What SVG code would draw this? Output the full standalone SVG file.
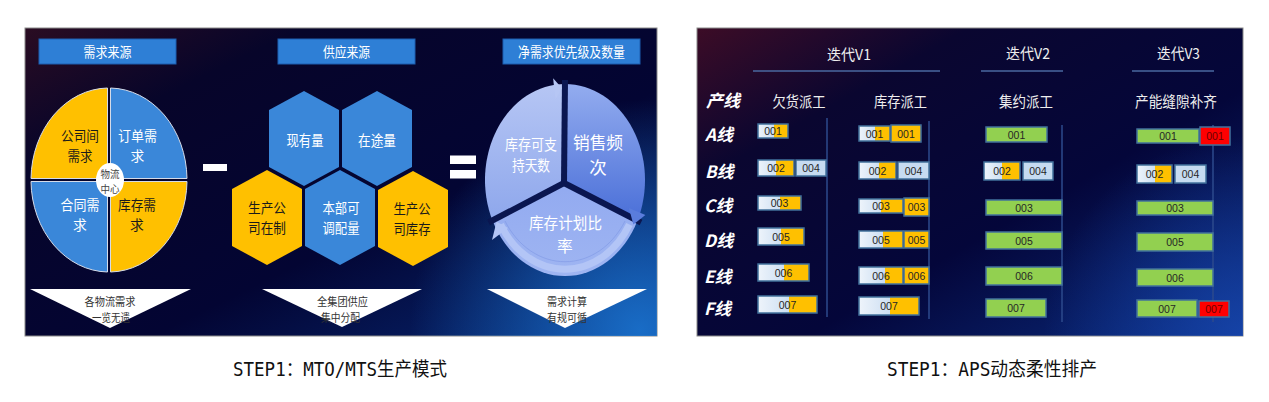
<svg xmlns="http://www.w3.org/2000/svg" width="1269" height="402" viewBox="0 0 1269 402">
<style>
.cn{font-family:"Noto Sans CJK SC","Noto Sans",sans-serif}
.w{fill:#ffffff}
.d{fill:#1a1a1a}
.mid{text-anchor:middle}
.hdr{fill:#2e7fd6;stroke:#1d5fb0;stroke-width:1}
.yl{fill:#ffc000}
.bl{fill:#3a87d9}
.qd{stroke:#d5dbe8;stroke-width:1}
.tri{fill:#ffffff}
.bd{fill:none;stroke:#41719c;stroke-width:1.5}
.lbl{font-family:"Liberation Sans",Arial,sans-serif;font-size:10.5px;fill:#262626;text-anchor:middle;dominant-baseline:central}
.rlbl{font-family:"Liberation Sans",Arial,sans-serif;font-size:10.5px;fill:#6b0000;text-anchor:middle;dominant-baseline:central}
.grn{fill:#92d050}
.red{fill:#ff0000}
.lb{fill:#c6dbf1}
.vl{stroke:#2c4a8c;stroke-width:1.5}
.ul{stroke:#4a68a0;stroke-width:1.5}
.rh{font-family:"Noto Sans CJK SC","Noto Sans",sans-serif;font-size:15px;fill:#eeeeee;text-anchor:middle}
.row{font-family:"Noto Sans CJK SC","Noto Sans",sans-serif;font-size:17px;font-weight:bold;font-style:italic;fill:#ffffff}
.cap{font-family:"DejaVu Sans Mono","Liberation Mono","Noto Sans CJK SC",monospace;font-size:19px;fill:#111111}
</style>
<defs>
<linearGradient id="bgL" x1="0" y1="0" x2="1" y2="1">
<stop offset="0" stop-color="#2a0c22"/>
<stop offset="0.22" stop-color="#07052a"/>
<stop offset="0.6" stop-color="#030533"/>
<stop offset="1" stop-color="#072a78"/>
</linearGradient>
<radialGradient id="glowL" cx="640" cy="330" r="230" gradientUnits="userSpaceOnUse">
<stop offset="0" stop-color="#1c78d4" stop-opacity="0.85"/>
<stop offset="1" stop-color="#1c78d4" stop-opacity="0"/>
</radialGradient>
<linearGradient id="bgR" x1="0" y1="0" x2="1" y2="1">
<stop offset="0" stop-color="#3c0c26"/>
<stop offset="0.25" stop-color="#0a0630"/>
<stop offset="0.6" stop-color="#04063a"/>
<stop offset="1" stop-color="#0a2c80"/>
</linearGradient>
<radialGradient id="glowR" cx="1243" cy="336" r="200" gradientUnits="userSpaceOnUse">
<stop offset="0" stop-color="#1848b0" stop-opacity="0.8"/>
<stop offset="1" stop-color="#1848b0" stop-opacity="0"/>
</radialGradient>
<linearGradient id="lg" x1="0" y1="0" x2="1" y2="0">
<stop offset="0" stop-color="#eef4fb"/>
<stop offset="1" stop-color="#aecbea"/>
</linearGradient>
<linearGradient id="w1" x1="0" y1="0" x2="0" y2="1">
<stop offset="0" stop-color="#b6c6f4"/>
<stop offset="1" stop-color="#8ea7ec"/>
</linearGradient>
<linearGradient id="w2" x1="0" y1="0" x2="0" y2="1">
<stop offset="0" stop-color="#93acef"/>
<stop offset="1" stop-color="#4a6fd8"/>
</linearGradient>
<linearGradient id="w3" x1="0" y1="0" x2="0" y2="1">
<stop offset="0" stop-color="#92aaf0"/>
<stop offset="1" stop-color="#9fb5f2"/>
</linearGradient>
</defs>

<rect width="1269" height="402" fill="#ffffff"/>

<!-- LEFT PANEL -->
<g id="panel-left">
<rect x="25" y="28" width="632" height="308" fill="url(#bgL)" stroke="#8a8a8a" stroke-width="1"/>
<rect x="25" y="28" width="632" height="308" fill="url(#glowL)"/>
</g>

<g id="hdr-demand">
<rect class="hdr" x="39" y="39" width="137" height="25"/>
<text class="cn w mid" x="107.5" y="57.3" font-size="14" textLength="48" lengthAdjust="spacingAndGlyphs">需求来源</text>
</g>
<g id="hdr-supply">
<rect class="hdr" x="278" y="39" width="137" height="25"/>
<text class="cn w mid" x="346.5" y="57.3" font-size="14" textLength="47" lengthAdjust="spacingAndGlyphs">供应来源</text>
</g>
<g id="hdr-net">
<rect class="hdr" x="503" y="39" width="137" height="25"/>
<text class="cn w mid" x="571.5" y="57.3" font-size="14" textLength="107" lengthAdjust="spacingAndGlyphs">净需求优先级及数量</text>
</g>

<g id="q-intercompany">
<path class="yl qd" d="M107.5,178.5 V88 A78,92 0 0 0 31,178.5 Z"/>
<text class="cn d mid" font-size="13.8"><tspan x="80" y="140.7" textLength="38" lengthAdjust="spacingAndGlyphs">公司间</tspan><tspan x="80" y="160.7" textLength="25" lengthAdjust="spacingAndGlyphs">需求</tspan></text>
</g>
<g id="q-order">
<path class="bl qd" d="M110.5,178.5 V88 A78,92 0 0 1 187,178.5 Z"/>
<text class="cn w mid" font-size="13.8"><tspan x="137.5" y="140.7" textLength="39" lengthAdjust="spacingAndGlyphs">订单需</tspan><tspan x="137.5" y="160.7">求</tspan></text>
</g>
<g id="q-contract">
<path class="bl qd" d="M107.5,181.5 V272 A78,92 0 0 1 31,181.5 Z"/>
<text class="cn w mid" font-size="13.8"><tspan x="80" y="209.7" textLength="39" lengthAdjust="spacingAndGlyphs">合同需</tspan><tspan x="80" y="229.7">求</tspan></text>
</g>
<g id="q-stock">
<path class="yl qd" d="M110.5,181.5 V272 A78,92 0 0 0 187,181.5 Z"/>
<text class="cn d mid" font-size="13.8"><tspan x="137" y="209.7" textLength="38" lengthAdjust="spacingAndGlyphs">库存需</tspan><tspan x="137" y="229.7">求</tspan></text>
</g>
<g id="logistics-center">
<ellipse cx="110" cy="180" rx="14" ry="17" fill="#ffffff"/>
<text class="cn mid" font-size="10.2" fill="#444"><tspan x="110" y="178.4" textLength="19" lengthAdjust="spacingAndGlyphs">物流</tspan><tspan x="110" y="193.4" textLength="19" lengthAdjust="spacingAndGlyphs">中心</tspan></text>
</g>
<g id="tri-demand">
<polygon class="tri" points="30,289 191,289 110,328"/>
<text class="cn mid" font-size="11" fill="#333"><tspan x="110" y="306.2" textLength="51" lengthAdjust="spacingAndGlyphs">各物流需求</tspan><tspan x="111" y="322.2" textLength="38" lengthAdjust="spacingAndGlyphs">一览无遗</tspan></text>
</g>

<g id="minus"><rect x="203" y="164" width="24" height="7" fill="#ffffff"/></g>

<g id="hex-onhand">
<polygon class="bl" points="304,91 339,110 339,167 304,186 269,167 269,110"/>
<text class="cn w mid" x="305" y="145.7" font-size="15" textLength="37" lengthAdjust="spacingAndGlyphs">现有量</text>
</g>
<g id="hex-transit">
<polygon class="bl" points="377,91 412,110 412,167 377,186 342,167 342,110"/>
<text class="cn w mid" x="377" y="145.7" font-size="15" textLength="38" lengthAdjust="spacingAndGlyphs">在途量</text>
</g>
<g id="hex-wip">
<polygon class="yl" points="267,170 302,189 302,246 267,265 232,246 232,189"/>
<text class="cn d mid" font-size="13.8"><tspan x="267" y="213.2" textLength="38" lengthAdjust="spacingAndGlyphs">生产公</tspan><tspan x="267" y="233.2" textLength="38" lengthAdjust="spacingAndGlyphs">司在制</tspan></text>
</g>
<g id="hex-transfer">
<polygon class="bl" points="340,170 375,189 375,246 340,265 305,246 305,189"/>
<text class="cn w mid" font-size="13.8"><tspan x="341" y="212.7" textLength="37" lengthAdjust="spacingAndGlyphs">本部可</tspan><tspan x="341" y="232.7" textLength="37" lengthAdjust="spacingAndGlyphs">调配量</tspan></text>
</g>
<g id="hex-stock">
<polygon class="yl" points="413,171 448,190 448,247 413,266 378,247 378,190"/>
<text class="cn d mid" font-size="13.8"><tspan x="412" y="214.2" textLength="37" lengthAdjust="spacingAndGlyphs">生产公</tspan><tspan x="412" y="234.2" textLength="37" lengthAdjust="spacingAndGlyphs">司库存</tspan></text>
</g>
<g id="tri-supply">
<polygon class="tri" points="262,289 422,289 342,327"/>
<text class="cn mid" font-size="11" fill="#333"><tspan x="342.5" y="306.2" textLength="51" lengthAdjust="spacingAndGlyphs">全集团供应</tspan><tspan x="340.5" y="322.2" textLength="39" lengthAdjust="spacingAndGlyphs">集中分配</tspan></text>
</g>

<g id="equals">
<rect x="450" y="155.5" width="26" height="8.5" fill="#ffffff"/>
<rect x="450" y="170" width="26" height="8.5" fill="#ffffff"/>
</g>

<g id="wedge-days">
<path d="M564,183 L492.5,220.6 A80,96 0 0 1 565,84 Z" fill="url(#w1)"/>
</g>
<g id="wedge-freq">
<path d="M564,183 L565,84 A80,96 0 0 1 637.5,220.6 Z" fill="url(#w2)"/>
</g>
<g id="wedge-ratio">
<path d="M564,183 L637.5,220.6 A80,96 0 0 1 492.5,220.6 Z" fill="url(#w3)"/>
<path d="M629.4,224.6 A74.4,89.3 0 0 1 500.6,224.6" fill="none" stroke="#b3c5f6" stroke-width="7"/>
<path d="M625,221 A70,84 0 0 1 505,221" fill="none" stroke="#7f98e4" stroke-width="1" stroke-opacity="0.6"/>
</g>
<g id="cycle-gaps" stroke="#0a1650" stroke-width="6" stroke-linecap="butt">
<line x1="564" y1="183" x2="565" y2="80"/>
<line x1="564" y1="183" x2="641" y2="222.5"/>
<line x1="564" y1="183" x2="488.5" y2="222.5"/>
</g>
<g id="cycle-arrows">
<polygon points="553.1,78.3 561.8,87.9 555.5,99.2" fill="#b6c6f4"/>
<polygon points="645.4,215.1 633.4,224.5 628.9,207.9" fill="#5a7ddc"/>
<polygon points="492,240 496.6,221.8 508,228" fill="#b3c5f6"/>
</g>
<g id="cycle-labels">
<text class="cn w mid" font-size="14.4"><tspan x="531" y="149.5" textLength="52" lengthAdjust="spacingAndGlyphs">库存可支</tspan><tspan x="531" y="170.5" textLength="38" lengthAdjust="spacingAndGlyphs">持天数</tspan></text>
<text class="cn w mid" font-size="17.5"><tspan x="598" y="148.7" textLength="50" lengthAdjust="spacingAndGlyphs">销售频</tspan><tspan x="598" y="174.2">次</tspan></text>
<text class="cn w mid" font-size="15.8"><tspan x="565.5" y="229" textLength="73" lengthAdjust="spacingAndGlyphs">库存计划比</tspan><tspan x="565" y="252">率</tspan></text>
</g>
<g id="tri-net">
<polygon class="tri" points="487,289 647,289 565,328"/>
<text class="cn mid" font-size="11" fill="#333"><tspan x="567" y="306.2" textLength="40" lengthAdjust="spacingAndGlyphs">需求计算</tspan><tspan x="567" y="322.2" textLength="40" lengthAdjust="spacingAndGlyphs">有规可循</tspan></text>
</g>

<!-- RIGHT PANEL -->
<g id="panel-right">
<rect x="697" y="28" width="546" height="308" fill="url(#bgR)" stroke="#8a8a8a" stroke-width="1"/>
<rect x="697" y="28" width="546" height="308" fill="url(#glowR)"/>
</g>

<g id="headers-right">
<text class="rh" x="849" y="60.4" textLength="44" lengthAdjust="spacingAndGlyphs">迭代V1</text>
<text class="rh" x="1028" y="59" textLength="44" lengthAdjust="spacingAndGlyphs">迭代V2</text>
<text class="rh" x="1178.5" y="59" textLength="43" lengthAdjust="spacingAndGlyphs">迭代V3</text>
<text class="rh" x="799" y="106.5" textLength="53" lengthAdjust="spacingAndGlyphs">欠货派工</text>
<text class="rh" x="900.5" y="106.5" textLength="53" lengthAdjust="spacingAndGlyphs">库存派工</text>
<text class="rh" x="1026" y="106.5" textLength="54" lengthAdjust="spacingAndGlyphs">集约派工</text>
<text class="rh" x="1176" y="106.5" textLength="82" lengthAdjust="spacingAndGlyphs">产能缝隙补齐</text>
<text class="row" x="706" y="106.5">产线</text>
<text class="row" x="705" y="140.5">A线</text>
<text class="row" x="705" y="177.5">B线</text>
<text class="row" x="704" y="211.5">C线</text>
<text class="row" x="704" y="246.5">D线</text>
<text class="row" x="704" y="282.5">E线</text>
<text class="row" x="704" y="314.5">F线</text>
</g>

<g id="connectors">
<line class="ul" x1="753" y1="71" x2="940" y2="71"/>
<line class="ul" x1="981" y1="71" x2="1063" y2="71"/>
<line class="ul" x1="1132" y1="71" x2="1214" y2="71"/>
<line class="vl" x1="827" y1="118" x2="827" y2="317"/>
<line class="vl" x1="929" y1="121" x2="929" y2="319"/>
<line class="vl" x1="1062" y1="125" x2="1062" y2="322"/>
<line class="vl" x1="1213" y1="125" x2="1213" y2="322"/>
</g>

<!-- V1 col 1 -->
<g id="v1a-A"><rect x="758" y="124" width="30" height="14" fill="url(#lg)"/><rect class="yl" x="774" y="124" width="14" height="14"/><rect class="bd" x="758" y="124" width="30" height="14"/><text class="lbl" x="773" y="131">001</text></g>
<g id="v1a-B1"><rect x="758" y="160" width="36" height="16" fill="url(#lg)"/><rect class="yl" x="776" y="160" width="18" height="16"/><rect class="bd" x="758" y="160" width="36" height="16"/><text class="lbl" x="776" y="168">002</text></g>
<g id="v1a-B2"><rect class="lb" x="796" y="160" width="30" height="16"/><rect class="bd" x="796" y="160" width="30" height="16"/><text class="lbl" x="811" y="168">004</text></g>
<g id="v1a-C"><rect x="758" y="196" width="43" height="14" fill="url(#lg)"/><rect class="yl" x="780" y="196" width="21" height="14"/><rect class="bd" x="758" y="196" width="43" height="14"/><text class="lbl" x="779.5" y="203">003</text></g>
<g id="v1a-D"><rect x="758" y="228" width="46" height="17" fill="url(#lg)"/><rect class="yl" x="781" y="228" width="23" height="17"/><rect class="bd" x="758" y="228" width="46" height="17"/><text class="lbl" x="781" y="236.5">005</text></g>
<g id="v1a-E"><rect x="758" y="264" width="51" height="17" fill="url(#lg)"/><rect class="yl" x="784" y="264" width="25" height="17"/><rect class="bd" x="758" y="264" width="51" height="17"/><text class="lbl" x="783.5" y="272.5">006</text></g>
<g id="v1a-F"><rect x="758" y="296" width="59" height="17" fill="url(#lg)"/><rect class="yl" x="789" y="296" width="28" height="17"/><rect class="bd" x="758" y="296" width="59" height="17"/><text class="lbl" x="787.5" y="304.5">007</text></g>

<!-- V1 col 2 -->
<g id="v1b-A1"><rect x="859" y="126" width="31" height="15" fill="url(#lg)"/><rect class="yl" x="875" y="126" width="15" height="15"/><rect class="bd" x="859" y="126" width="31" height="15"/><text class="lbl" x="874.5" y="133.5">001</text></g>
<g id="v1b-A2"><rect class="yl" x="891" y="125" width="30" height="17"/><rect class="bd" x="891" y="125" width="30" height="17"/><text class="lbl" x="906" y="133.5">001</text></g>
<g id="v1b-B1"><rect x="859" y="162" width="37" height="17" fill="url(#lg)"/><rect class="yl" x="879" y="162" width="17" height="17"/><rect class="bd" x="859" y="162" width="37" height="17"/><text class="lbl" x="877.5" y="170.5">002</text></g>
<g id="v1b-B2"><rect class="lb" x="898" y="162" width="31" height="17"/><rect class="bd" x="898" y="162" width="31" height="17"/><text class="lbl" x="913.5" y="170.5">004</text></g>
<g id="v1b-C1"><rect x="859" y="199" width="44" height="14" fill="url(#lg)"/><rect class="yl" x="881" y="199" width="22" height="14"/><rect class="bd" x="859" y="199" width="44" height="14"/><text class="lbl" x="881" y="206">003</text></g>
<g id="v1b-C2"><rect class="yl" x="904" y="198" width="25" height="18"/><rect class="bd" x="904" y="198" width="25" height="18"/><text class="lbl" x="916.5" y="207">003</text></g>
<g id="v1b-D1"><rect x="859" y="231" width="44" height="17" fill="url(#lg)"/><rect class="yl" x="883" y="231" width="20" height="17"/><rect class="bd" x="859" y="231" width="44" height="17"/><text class="lbl" x="881" y="239.5">005</text></g>
<g id="v1b-D2"><rect class="yl" x="904" y="231" width="25" height="17"/><rect class="bd" x="904" y="231" width="25" height="17"/><text class="lbl" x="916.5" y="239.5">005</text></g>
<g id="v1b-E1"><rect x="859" y="267" width="44" height="17" fill="url(#lg)"/><rect class="yl" x="885" y="267" width="18" height="17"/><rect class="bd" x="859" y="267" width="44" height="17"/><text class="lbl" x="881" y="275.5">006</text></g>
<g id="v1b-E2"><rect class="yl" x="904" y="267" width="25" height="17"/><rect class="bd" x="904" y="267" width="25" height="17"/><text class="lbl" x="916.5" y="275.5">006</text></g>
<g id="v1b-F"><rect x="859" y="297" width="60" height="18" fill="url(#lg)"/><rect class="yl" x="890" y="297" width="29" height="18"/><rect class="bd" x="859" y="297" width="60" height="18"/><text class="lbl" x="889" y="306">007</text></g>

<!-- V2 -->
<g id="v2-A"><rect class="grn" x="986" y="127" width="61" height="15"/><rect class="bd" x="986" y="127" width="61" height="15"/><text class="lbl" x="1016.5" y="134.5">001</text></g>
<g id="v2-B1"><rect x="984" y="162" width="36" height="18" fill="url(#lg)"/><rect class="yl" x="1002" y="162" width="18" height="18"/><rect class="bd" x="984" y="162" width="36" height="18"/><text class="lbl" x="1002" y="171">002</text></g>
<g id="v2-B2"><rect class="lb" x="1023" y="162" width="30" height="18"/><rect class="bd" x="1023" y="162" width="30" height="18"/><text class="lbl" x="1038" y="171">004</text></g>
<g id="v2-C"><rect class="grn" x="986" y="200" width="76" height="15"/><rect class="bd" x="986" y="200" width="76" height="15"/><text class="lbl" x="1024" y="207.5">003</text></g>
<g id="v2-D"><rect class="grn" x="986" y="232" width="76" height="17"/><rect class="bd" x="986" y="232" width="76" height="17"/><text class="lbl" x="1024" y="240.5">005</text></g>
<g id="v2-E"><rect class="grn" x="986" y="267" width="76" height="18"/><rect class="bd" x="986" y="267" width="76" height="18"/><text class="lbl" x="1024" y="276">006</text></g>
<g id="v2-F"><rect class="grn" x="986" y="299" width="60" height="18"/><rect class="bd" x="986" y="299" width="60" height="18"/><text class="lbl" x="1016" y="308">007</text></g>

<!-- V3 -->
<g id="v3-A1"><rect class="grn" x="1137" y="129" width="62" height="14"/><rect class="bd" x="1137" y="129" width="62" height="14"/><text class="lbl" x="1168" y="136">001</text></g>
<g id="v3-A2"><rect class="red" x="1200" y="127" width="30" height="18"/><rect class="bd" x="1200" y="127" width="30" height="18"/><text class="rlbl" x="1215" y="136">001</text></g>
<g id="v3-B1"><rect x="1137" y="165" width="35" height="18" fill="url(#lg)"/><rect class="yl" x="1155" y="165" width="17" height="18"/><rect class="bd" x="1137" y="165" width="35" height="18"/><text class="lbl" x="1154.5" y="174">002</text></g>
<g id="v3-B2"><rect class="lb" x="1175" y="165" width="31" height="18"/><rect class="bd" x="1175" y="165" width="31" height="18"/><text class="lbl" x="1190.5" y="174">004</text></g>
<g id="v3-C"><rect class="grn" x="1137" y="201" width="76" height="14"/><rect class="bd" x="1137" y="201" width="76" height="14"/><text class="lbl" x="1175" y="208">003</text></g>
<g id="v3-D"><rect class="grn" x="1137" y="233" width="76" height="18"/><rect class="bd" x="1137" y="233" width="76" height="18"/><text class="lbl" x="1175" y="242">005</text></g>
<g id="v3-E"><rect class="grn" x="1137" y="269" width="76" height="17"/><rect class="bd" x="1137" y="269" width="76" height="17"/><text class="lbl" x="1175" y="277.5">006</text></g>
<g id="v3-F1"><rect class="grn" x="1137" y="300" width="60" height="17"/><rect class="bd" x="1137" y="300" width="60" height="17"/><text class="lbl" x="1167" y="308.5">007</text></g>
<g id="v3-F2"><rect class="red" x="1199" y="301" width="30" height="16"/><rect class="bd" x="1199" y="301" width="30" height="16"/><text class="rlbl" x="1214" y="309">007</text></g>

<!-- Captions -->
<g id="captions">
<text class="cap" x="233" y="376" textLength="214" lengthAdjust="spacingAndGlyphs">STEP1：MTO/MTS生产模式</text>
<text class="cap" x="887" y="376" textLength="210" lengthAdjust="spacingAndGlyphs">STEP1：APS动态柔性排产</text>
</g>
</svg>
